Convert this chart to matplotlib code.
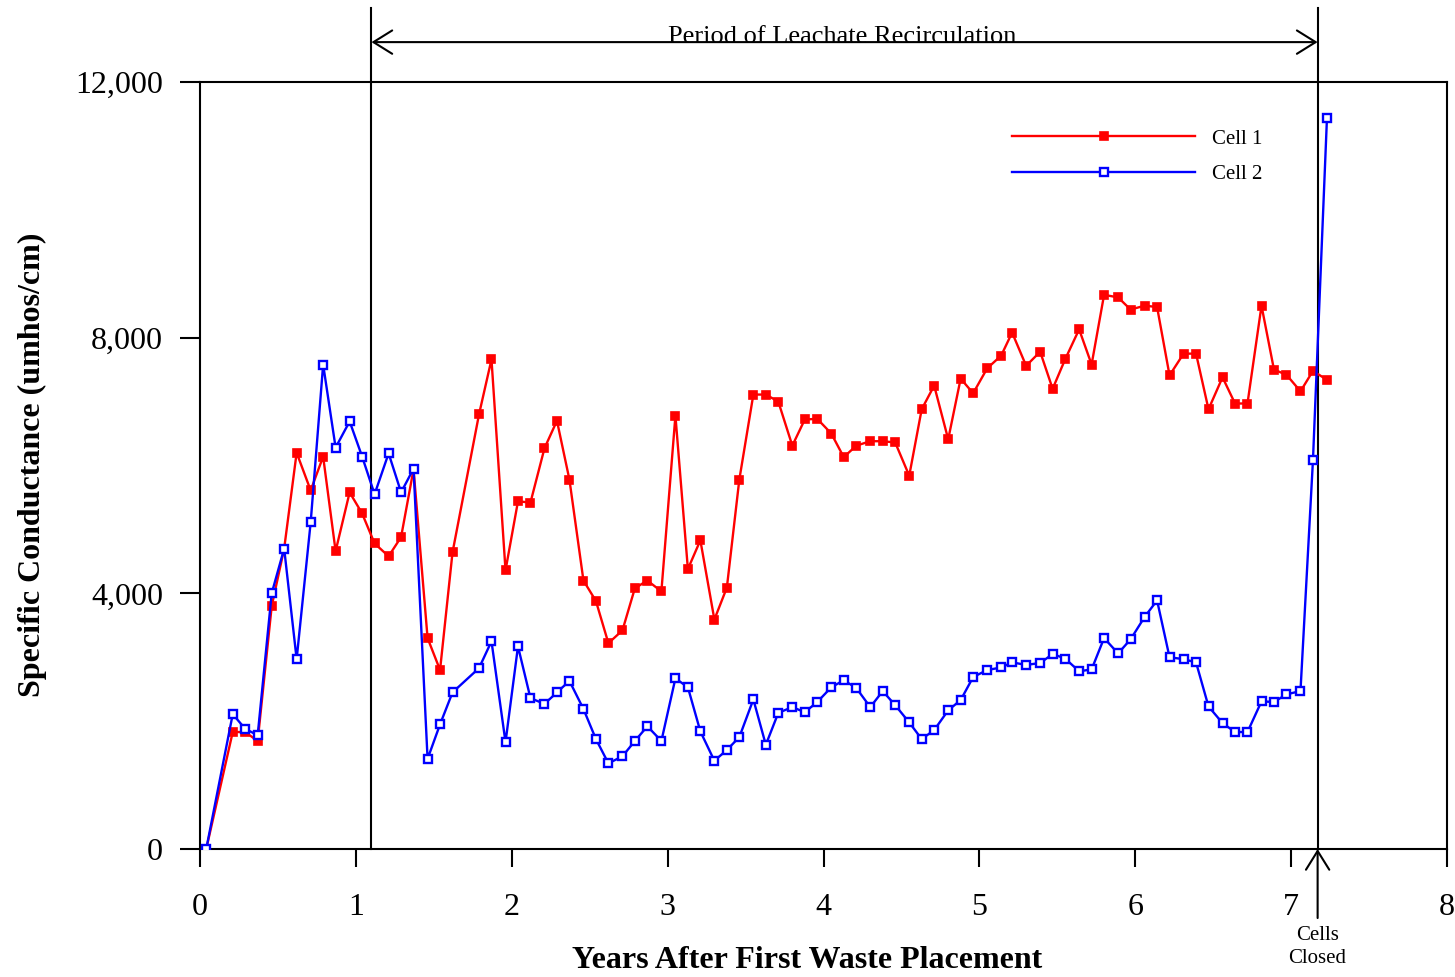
import matplotlib.pyplot as plt
from matplotlib.ticker import FuncFormatter

plt.rcParams['font.family'] = ['Liberation Serif', 'DejaVu Serif']

# monthly samples, years after first waste placement
anos = [0.04, 0.21, 0.29, 0.37, 0.46, 0.54, 0.62, 0.71, 0.79, 0.87,
        0.96, 1.04, 1.12, 1.21, 1.29, 1.37, 1.46, 1.54, 1.62, 1.79,
        1.87, 1.96, 2.04, 2.12, 2.21, 2.29, 2.37, 2.46, 2.54, 2.62,
        2.71, 2.79, 2.87, 2.96, 3.05, 3.13, 3.21, 3.30, 3.38, 3.46,
        3.55, 3.63, 3.71, 3.80, 3.88, 3.96, 4.05, 4.13, 4.21, 4.30,
        4.38, 4.46, 4.55, 4.63, 4.71, 4.80, 4.88, 4.96, 5.05, 5.14,
        5.21, 5.30, 5.39, 5.47, 5.55, 5.64, 5.72, 5.80, 5.89, 5.97,
        6.06, 6.14, 6.22, 6.31, 6.39, 6.47, 6.56, 6.64, 6.72, 6.81,
        6.89, 6.97, 7.06, 7.14, 7.23]

cell_1 = [0, 1830, 1830, 1690, 3800, 4700, 6200, 5610, 6140, 4660,
          5580, 5250, 4780, 4580, 4880, 5940, 3300, 2800, 4640, 6800,
          7660, 4360, 5440, 5420, 6270, 6700, 5780, 4200, 3880, 3220,
          3420, 4080, 4200, 4030, 6780, 4380, 4830, 3590, 4090, 5780,
          7110, 7110, 7000, 6310, 6720, 6730, 6500, 6130, 6310, 6380,
          6380, 6360, 5840, 6880, 7250, 6410, 7360, 7130, 7520, 7720,
          8080, 7560, 7780, 7200, 7660, 8130, 7580, 8670, 8630, 8440,
          8500, 8480, 7410, 7750, 7750, 6880, 7380, 6970, 6970, 8500,
          7500, 7420, 7160, 7480, 7340]

cell_2 = [0, 2110, 1880, 1780, 4000, 4700, 2970, 5110, 7580, 6280,
          6690, 6140, 5550, 6190, 5580, 5950, 1410, 1950, 2450, 2830,
          3250, 1670, 3170, 2360, 2270, 2450, 2630, 2190, 1720, 1340,
          1450, 1690, 1920, 1690, 2670, 2530, 1840, 1380, 1550, 1750,
          2340, 1630, 2130, 2220, 2140, 2300, 2530, 2640, 2520, 2220,
          2470, 2250, 1980, 1720, 1860, 2170, 2330, 2690, 2800, 2840,
          2920, 2880, 2910, 3050, 2980, 2780, 2810, 3300, 3060, 3280,
          3630, 3890, 3000, 2970, 2920, 2230, 1970, 1830, 1830, 2310,
          2300, 2420, 2470, 6080, 11440]

inicio_recirculacao = 1.10
fechamento_celulas = 7.17

fig = plt.figure(figsize=(14.55, 9.77), dpi=100)
ax = fig.add_axes([200 / 1455, 1 - 849 / 977, 1247 / 1455, 767 / 977])

ax.plot(anos, cell_1, color='#ff0000', lw=1.7, marker='s', ms=6,
        mfc='#ff0000', mec='#ff0000', mew=1.2, label='Cell 1', zorder=3)
ax.plot(anos, cell_2, color='#0000ff', lw=1.7, marker='s', ms=5.8,
        mfc='white', mec='#0000ff', mew=1.7, label='Cell 2', zorder=3)

ax.set_xlim(0, 8)
ax.set_ylim(0, 12000)
ax.set_xticks(range(0, 9))
ax.set_yticks([0, 4000, 8000, 12000])
ax.yaxis.set_major_formatter(FuncFormatter(lambda v, p: f'{int(v):,}'))

for lado in ['left', 'right', 'top', 'bottom']:
    ax.spines[lado].set_linewidth(1.5)
ax.tick_params(axis='y', direction='out', length=14.5, width=1.5, pad=12, labelsize=23)
ax.tick_params(axis='x', direction='out', length=13, width=1.5, pad=19, labelsize=23)

# recirculation period markers
tr = ax.get_xaxis_transform()
topo = (849 - 8) / 767
ax.plot([inicio_recirculacao] * 2, [0, topo], color='black', lw=1.5, transform=tr, clip_on=False)
ax.plot([fechamento_celulas] * 2, [0, topo], color='black', lw=1.5, transform=tr, clip_on=False)

ax.annotate('', xy=(inicio_recirculacao, 1.052), xytext=(fechamento_celulas, 1.052),
            xycoords=('data', 'axes fraction'), textcoords=('data', 'axes fraction'),
            annotation_clip=False,
            arrowprops=dict(arrowstyle='<->,head_length=0.45,head_width=0.28',
                            mutation_scale=30, lw=1.5, color='black',
                            shrinkA=0, shrinkB=0))
ax.text(4.12, 1.059, 'Period of Leachate Recirculation', transform=tr,
        ha='center', va='center', fontsize=19)

ax.annotate('', xy=(fechamento_celulas, 0), xytext=(fechamento_celulas, -0.09),
            xycoords=('data', 'axes fraction'), textcoords=('data', 'axes fraction'),
            annotation_clip=False,
            arrowprops=dict(arrowstyle='->,head_length=0.45,head_width=0.28',
                            mutation_scale=30, lw=1.5, color='black',
                            shrinkA=0, shrinkB=0))
ax.text(fechamento_celulas, -0.128, 'Cells\nClosed', transform=tr,
        ha='center', va='center', fontsize=15, linespacing=1.3)

ax.legend(loc='upper left', bbox_to_anchor=((1012 - 200) / 1247, (849 - 129) / 767),
          frameon=False, fontsize=15, handlelength=8.8, handletextpad=0.8,
          labelspacing=0.78, borderpad=0, borderaxespad=0, numpoints=1)

fig.text(807 / 1455, 1 - 961 / 977, 'Years After First Waste Placement',
         ha='center', va='center', fontsize=23, fontweight='bold')
fig.text(32 / 1455, 1 - 465 / 977, 'Specific Conductance (umhos/cm)',
         ha='center', va='center', rotation=90, fontsize=23, fontweight='bold')

plt.savefig('out.png', dpi=100)
